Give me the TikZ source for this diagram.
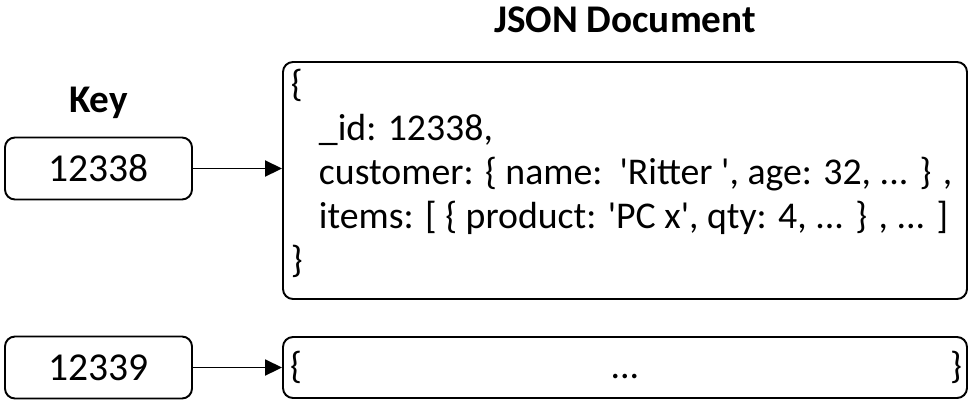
\documentclass[tikz,border=0pt]{standalone}
\usepackage{fontspec}
\setmainfont{Carlito}
\usetikzlibrary{positioning,arrows.meta}
\newcommand{\q}{\textquotesingle}
\begin{document}
\begin{tikzpicture}[font=\fontsize{21.5}{25}\selectfont,line width=1.1pt,
      keybox/.style={draw,rounded corners=0.2cm,minimum width=3.74cm,minimum height=1.24cm,inner sep=0pt,font=\fontsize{22.5}{25}\selectfont},
      docbox/.style={draw,rounded corners=0.2cm,minimum width=13.68cm,inner sep=0pt},
      head/.style={font=\fontsize{22.3}{25}\selectfont\bfseries},
      arr/.style={-{Triangle[length=0.34cm,width=0.32cm]}}]
    \useasboundingbox (0,0) rectangle (19.4,-8.04);
    \node[head] (keyhead) at (1.97,-2.06) {Key};
    \node[head] (dochead) at (12.5,-0.4) {JSON Document};
    \node[keybox] (k1) at (1.97,-3.37) {12338};
    \node[keybox] (k2) at (1.97,-7.35) {12339};
    \node[docbox,minimum height=4.74cm] (d1) at (12.5,-3.61) {};
    \node[docbox,minimum height=1.22cm] (d2) at (12.5,-7.35) {};
    \node[anchor=west,align=left,inner sep=0pt] (doc1) at (5.8,-3.47)
      {\{\\
       \hspace*{0.56cm}\_id: 12338,\\
       \hspace*{0.56cm}customer: \{ name:\ \ \q Ritter \q, age: 32, ... \} ,\\
       \hspace*{0.56cm}items: [ \{ product: \q PC x\q, qty: 4, ... \} , ... ]\\
       \}};
    \node[anchor=west,inner sep=0pt] (open2) at ([xshift=0.14cm]d2.west) {\{};
    \node[anchor=base,inner sep=0pt] (dots2) at (d2.center |- open2.base) {...};
    \node[anchor=east,inner sep=0pt] (close2) at ([xshift=-0.1cm]d2.east) {\}};
    \draw[arr] (k1.east) -- (k1.east -| d1.west);
    \draw[arr] (k2.east) -- (d2.west);
\end{tikzpicture}
\end{document}
